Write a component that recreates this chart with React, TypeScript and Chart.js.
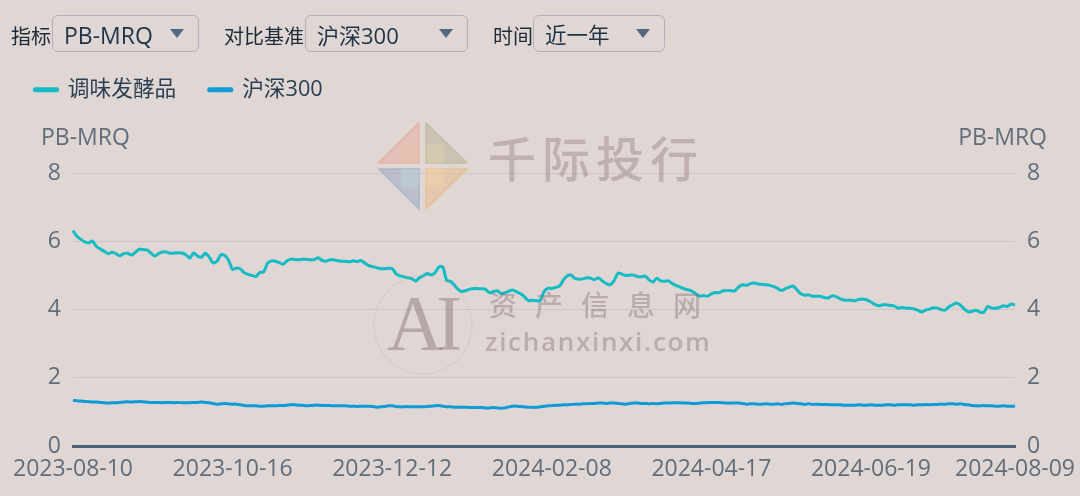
import React, { useEffect, useRef } from "react";
import { Chart, registerables, layouts } from "chart.js";

Chart.register(...registerables);

const dates = [
  "2023-08-10","2023-08-11","2023-08-14","2023-08-15","2023-08-16","2023-08-17","2023-08-18","2023-08-21","2023-08-22","2023-08-23",
  "2023-08-24","2023-08-25","2023-08-28","2023-08-29","2023-08-30","2023-08-31","2023-09-01","2023-09-04","2023-09-05","2023-09-06",
  "2023-09-07","2023-09-08","2023-09-11","2023-09-12","2023-09-13","2023-09-14","2023-09-15","2023-09-18","2023-09-19","2023-09-20",
  "2023-09-21","2023-09-22","2023-09-25","2023-09-26","2023-09-27","2023-09-28","2023-10-09","2023-10-10","2023-10-11","2023-10-12",
  "2023-10-13","2023-10-16","2023-10-17","2023-10-18","2023-10-19","2023-10-20","2023-10-23","2023-10-24","2023-10-25","2023-10-26",
  "2023-10-27","2023-10-30","2023-10-31","2023-11-01","2023-11-02","2023-11-03","2023-11-06","2023-11-07","2023-11-08","2023-11-09",
  "2023-11-10","2023-11-13","2023-11-14","2023-11-15","2023-11-16","2023-11-17","2023-11-20","2023-11-21","2023-11-22","2023-11-23",
  "2023-11-24","2023-11-27","2023-11-28","2023-11-29","2023-11-30","2023-12-01","2023-12-04","2023-12-05","2023-12-06","2023-12-07",
  "2023-12-08","2023-12-11","2023-12-12","2023-12-13","2023-12-14","2023-12-15","2023-12-18","2023-12-19","2023-12-20","2023-12-21",
  "2023-12-22","2023-12-25","2023-12-26","2023-12-27","2023-12-28","2023-12-29","2024-01-02","2024-01-03","2024-01-04","2024-01-05",
  "2024-01-08","2024-01-09","2024-01-10","2024-01-11","2024-01-12","2024-01-15","2024-01-16","2024-01-17","2024-01-18","2024-01-19",
  "2024-01-22","2024-01-23","2024-01-24","2024-01-25","2024-01-26","2024-01-29","2024-01-30","2024-01-31","2024-02-01","2024-02-02",
  "2024-02-05","2024-02-06","2024-02-07","2024-02-08","2024-02-19","2024-02-20","2024-02-21","2024-02-22","2024-02-23","2024-02-26",
  "2024-02-27","2024-02-28","2024-02-29","2024-03-01","2024-03-04","2024-03-05","2024-03-06","2024-03-07","2024-03-08","2024-03-11",
  "2024-03-12","2024-03-13","2024-03-14","2024-03-15","2024-03-18","2024-03-19","2024-03-20","2024-03-21","2024-03-22","2024-03-25",
  "2024-03-26","2024-03-27","2024-03-28","2024-03-29","2024-04-01","2024-04-02","2024-04-03","2024-04-08","2024-04-09","2024-04-10",
  "2024-04-11","2024-04-12","2024-04-15","2024-04-16","2024-04-17","2024-04-18","2024-04-19","2024-04-22","2024-04-23","2024-04-24",
  "2024-04-25","2024-04-26","2024-04-29","2024-04-30","2024-05-06","2024-05-07","2024-05-08","2024-05-09","2024-05-10","2024-05-13",
  "2024-05-14","2024-05-15","2024-05-16","2024-05-17","2024-05-20","2024-05-21","2024-05-22","2024-05-23","2024-05-24","2024-05-27",
  "2024-05-28","2024-05-29","2024-05-30","2024-05-31","2024-06-03","2024-06-04","2024-06-05","2024-06-06","2024-06-07","2024-06-11",
  "2024-06-12","2024-06-13","2024-06-14","2024-06-17","2024-06-18","2024-06-19","2024-06-20","2024-06-21","2024-06-24","2024-06-25",
  "2024-06-26","2024-06-27","2024-06-28","2024-07-01","2024-07-02","2024-07-03","2024-07-04","2024-07-05","2024-07-08","2024-07-09",
  "2024-07-10","2024-07-11","2024-07-12","2024-07-15","2024-07-16","2024-07-17","2024-07-18","2024-07-19","2024-07-22","2024-07-23",
  "2024-07-24","2024-07-25","2024-07-26","2024-07-29","2024-07-30","2024-07-31","2024-08-01","2024-08-02","2024-08-05","2024-08-06",
  "2024-08-07","2024-08-08","2024-08-09",
];

const seasoningPb = [
  6.33,6.16,6.07,6.00,5.97,6.02,5.86,5.79,5.72,5.65,
  5.69,5.65,5.59,5.65,5.66,5.61,5.69,5.78,5.77,5.76,
  5.67,5.58,5.65,5.70,5.70,5.66,5.67,5.68,5.67,5.62,
  5.52,5.67,5.58,5.55,5.66,5.55,5.38,5.43,5.62,5.60,
  5.45,5.19,5.23,5.20,5.09,5.04,5.01,4.98,5.10,5.12,
  5.37,5.44,5.43,5.39,5.34,5.44,5.49,5.48,5.47,5.49,
  5.48,5.47,5.48,5.53,5.45,5.43,5.47,5.47,5.44,5.43,
  5.43,5.41,5.44,5.42,5.45,5.37,5.30,5.27,5.24,5.21,
  5.21,5.22,5.21,5.06,5.00,4.97,4.94,4.92,4.85,4.94,
  5.00,5.07,5.03,5.09,5.26,5.26,4.87,4.84,4.72,4.59,
  4.54,4.57,4.61,4.63,4.62,4.62,4.60,4.50,4.54,4.56,
  4.48,4.50,4.55,4.58,4.53,4.47,4.38,4.27,4.28,4.27,
  4.27,4.54,4.63,4.63,4.66,4.70,4.88,5.00,5.02,4.92,
  4.90,4.91,4.94,4.93,4.89,4.94,4.85,4.77,4.74,4.86,
  5.08,5.05,5.01,5.02,5.02,4.98,4.97,4.99,4.88,4.82,
  4.93,4.85,4.84,4.85,4.77,4.71,4.67,4.62,4.59,4.55,
  4.47,4.40,4.42,4.40,4.47,4.51,4.50,4.56,4.57,4.56,
  4.56,4.67,4.74,4.72,4.77,4.79,4.76,4.75,4.74,4.72,
  4.68,4.63,4.57,4.62,4.67,4.70,4.59,4.47,4.43,4.44,
  4.40,4.40,4.40,4.36,4.35,4.41,4.39,4.33,4.29,4.28,
  4.28,4.27,4.31,4.31,4.29,4.23,4.16,4.12,4.15,4.15,
  4.13,4.11,4.05,4.07,4.05,4.05,4.03,3.99,3.94,3.99,
  4.02,4.06,4.05,4.01,3.99,4.09,4.15,4.20,4.14,4.02,
  3.94,3.96,3.99,3.93,3.93,4.10,4.05,4.05,4.07,4.12,
  4.10,4.17,4.14,
];

const hs300Pb = [
  1.34,1.33,1.32,1.31,1.30,1.29,1.29,1.28,1.27,1.26,
  1.27,1.27,1.28,1.29,1.30,1.29,1.30,1.31,1.30,1.29,
  1.28,1.28,1.28,1.27,1.28,1.28,1.27,1.28,1.27,1.27,
  1.27,1.28,1.28,1.29,1.28,1.27,1.25,1.23,1.24,1.25,
  1.24,1.23,1.23,1.21,1.19,1.18,1.18,1.18,1.17,1.17,
  1.18,1.18,1.18,1.19,1.19,1.20,1.21,1.21,1.20,1.20,
  1.18,1.19,1.20,1.20,1.19,1.19,1.19,1.18,1.18,1.18,
  1.18,1.17,1.17,1.16,1.17,1.17,1.17,1.16,1.14,1.15,
  1.16,1.18,1.18,1.16,1.15,1.15,1.16,1.15,1.15,1.15,
  1.15,1.16,1.17,1.18,1.19,1.17,1.15,1.15,1.14,1.14,
  1.14,1.14,1.13,1.13,1.13,1.13,1.12,1.12,1.13,1.12,
  1.11,1.12,1.15,1.17,1.17,1.16,1.15,1.14,1.14,1.13,
  1.15,1.17,1.18,1.19,1.20,1.20,1.21,1.21,1.22,1.23,
  1.23,1.24,1.24,1.25,1.25,1.26,1.26,1.25,1.26,1.26,
  1.25,1.24,1.23,1.25,1.26,1.26,1.25,1.25,1.24,1.25,
  1.24,1.25,1.26,1.26,1.27,1.27,1.27,1.26,1.26,1.25,
  1.25,1.26,1.27,1.27,1.28,1.28,1.28,1.27,1.26,1.26,
  1.26,1.26,1.25,1.23,1.24,1.24,1.23,1.23,1.24,1.23,
  1.23,1.24,1.22,1.24,1.25,1.26,1.25,1.24,1.22,1.24,
  1.22,1.23,1.22,1.22,1.22,1.21,1.21,1.21,1.20,1.20,
  1.20,1.20,1.21,1.20,1.20,1.21,1.20,1.20,1.20,1.21,
  1.21,1.20,1.21,1.21,1.21,1.21,1.20,1.21,1.21,1.22,
  1.21,1.22,1.22,1.23,1.23,1.24,1.24,1.23,1.24,1.22,
  1.21,1.19,1.18,1.18,1.19,1.18,1.18,1.17,1.17,1.18,
  1.17,1.17,1.17,
];

const xTickLabels = ["2023-08-10","2023-10-16","2023-12-12","2024-02-08","2024-04-17","2024-06-19","2024-08-09"];
const yTicks = [0, 2, 4, 6, 8];
const seriesNames = ["调味发酵品", "沪深300"];
const axisName = "PB-MRQ";

const FONT = '"Open Sans","Noto Sans CJK SC",sans-serif';
const CJK_FONT = '"Noto Sans CJK SC","Open Sans",sans-serif';
const TICK_COLOR = "#606d7b";

// A layout box between the legend and the plot that carries the two axis names.
const axisNames = {
  id: "axisNames",
  start(chart: any) {
    const box: any = {
      position: "top", weight: 500, fullSize: true, options: {},
      left: 0, top: 0, right: 0, bottom: 0, width: 0, height: 63,
      isHorizontal: () => true,
      update(w: number) { box.width = w; box.height = 63; },
      draw() {
        const ctx = chart.ctx;
        ctx.save();
        ctx.font = `23px ${FONT}`;
        ctx.fillStyle = TICK_COLOR;
        ctx.textBaseline = "middle";
        const y = box.top + 28;
        ctx.textAlign = "left";
        ctx.fillText(axisName, 41, y);
        ctx.textAlign = "right";
        ctx.fillText(axisName, 1047, y);
        ctx.restore();
      },
    };
    layouts.addBox(chart, box);
  },
};

function Dropdown({ left, width, text, size }: { left: number; width: number; text: string; size: number }) {
  return (
    <div style={{ position: "absolute", left, top: 15, width, height: 37, boxSizing: "border-box", border: "1px solid #b6aebd", borderRadius: 6 }}>
      <span style={{ position: "absolute", left: 11, top: 1, lineHeight: "36px", fontSize: size, color: "#1d3447", whiteSpace: "nowrap" }}>{text}</span>
      <span style={{ position: "absolute", right: 14, top: 13, width: 0, height: 0, borderLeft: "7px solid transparent", borderRight: "7px solid transparent", borderTop: "9px solid #4f6a80" }} />
    </div>
  );
}

function FilterLabel({ left, text }: { left: number; text: string }) {
  return <span style={{ position: "absolute", left, top: 22, lineHeight: "30px", fontSize: 20, color: "#1d2b38", whiteSpace: "nowrap" }}>{text}</span>;
}

export default function App() {
  const canvasRef = useRef<HTMLCanvasElement>(null);

  useEffect(() => {
    document.body.style.margin = "0";
    const chart = new Chart(canvasRef.current!, {
      type: "line",
      plugins: [axisNames],
      data: {
        labels: dates,
        datasets: [
          { label: seriesNames[0], data: seasoningPb, borderColor: "#12bcc4", backgroundColor: "#12bcc4", borderWidth: 3, pointRadius: 0, tension: 0.25 },
          { label: seriesNames[1], data: hs300Pb, borderColor: "#0f9bd6", backgroundColor: "#0f9bd6", borderWidth: 3, pointRadius: 0, tension: 0.25 },
        ],
      },
      options: {
        responsive: false,
        animation: false,
        layout: { padding: { top: 46, left: 2, right: 0, bottom: 0 } },
        plugins: {
          tooltip: { enabled: false },
          legend: {
            position: "top",
            align: "start",
            labels: {
              boxWidth: 22, boxHeight: 1, padding: 33,
              color: "#2a4052", font: { family: FONT, size: 21.7 },
              generateLabels(c: any) {
                return Chart.defaults.plugins.legend.labels.generateLabels(c).map((item: any) => ({
                  ...item, lineWidth: 4, lineCap: "round", lineJoin: "round",
                }));
              },
            },
          },
        },
        scales: {
          x: {
            type: "category",
            offset: false,
            grid: { display: false, drawTicks: false },
            border: { color: "#4d6278", width: 3 },
            afterFit(scale: any) { scale.height = 50; scale.paddingLeft = 0; scale.paddingRight = 0; },
            ticks: {
              autoSkip: false, maxRotation: 0, minRotation: 0, padding: 10,
              color: TICK_COLOR, font: { family: FONT, size: 23 },
              callback(this: any, value: any) {
                const label = this.getLabelForValue(value);
                return xTickLabels.includes(label) ? label : null;
              },
            },
          },
          y: {
            position: "left", min: 0, max: 8,
            grid: { color: "#cfc4c9", lineWidth: 1, drawTicks: false },
            border: { display: false },
            afterFit(scale: any) { scale.width = 71; },
            ticks: {
              padding: 12, color: TICK_COLOR, font: { family: FONT, size: 23 },
              autoSkip: false,
              callback: (v: any) => (yTicks.includes(Number(v)) ? String(v) : null),
              stepSize: 2,
            },
          },
          y1: {
            position: "right", min: 0, max: 8, display: true,
            grid: { display: false, drawTicks: false },
            border: { display: false },
            afterFit(scale: any) { scale.width = 65; },
            ticks: {
              padding: 12, color: TICK_COLOR, font: { family: FONT, size: 23 },
              autoSkip: false,
              callback: (v: any) => (yTicks.includes(Number(v)) ? String(v) : null),
              stepSize: 2,
            },
          },
        },
      },
    } as any);
    return () => chart.destroy();
  }, []);

  return (
    <div style={{ position: "absolute", left: 0, top: 0, width: 1080, height: 496, overflow: "hidden", background: "#e0d6d4", fontFamily: FONT }}>
      <canvas ref={canvasRef} width={1080} height={496} style={{ position: "absolute", left: 0, top: 0, display: "block", width: 1080, height: 496 }} />

      <FilterLabel left={11} text="指标" />
      <Dropdown left={52} width={147} size={23} text="PB-MRQ" />
      <FilterLabel left={224} text="对比基准" />
      <Dropdown left={305} width={163} size={22} text="沪深300" />
      <FilterLabel left={493} text="时间" />
      <Dropdown left={533} width={132} size={21.5} text="近一年" />

      {/* watermarks */}
      <svg width={1080} height={496} style={{ position: "absolute", left: 0, top: 0, pointerEvents: "none" }}>
        <path d="M419 123 L378 163 L419 163 Z" fill="#e3a999" fillOpacity={0.5} stroke="#e3a999" strokeOpacity={0.5} strokeWidth={2} strokeLinejoin="round" />
        <path d="M426 123 L467 163 L426 163 Z" fill="#bdb598" fillOpacity={0.55} stroke="#bdb598" strokeOpacity={0.55} strokeWidth={2} strokeLinejoin="round" />
        <path d="M379 169 L419 169 L419 209 Z" fill="#9fadc4" fillOpacity={0.55} stroke="#9fadc4" strokeOpacity={0.55} strokeWidth={2} strokeLinejoin="round" />
        <path d="M467 169 L426 169 L426 209 Z" fill="#eabb8d" fillOpacity={0.55} stroke="#eabb8d" strokeOpacity={0.55} strokeWidth={2} strokeLinejoin="round" />
        <rect x={401} y={144} width={18} height={19} rx={4} fill="#f0c8a0" fillOpacity={0.3} />
        <rect x={426} y={144} width={18} height={19} rx={4} fill="#e8d8a8" fillOpacity={0.3} />
        <rect x={401} y={169} width={18} height={18} rx={4} fill="#b8d4dc" fillOpacity={0.45} />
        <rect x={426} y={169} width={18} height={18} rx={4} fill="#f0d8a8" fillOpacity={0.45} />
        <circle cx={423} cy={325} r={49} fill="none" stroke="#b8adad" strokeWidth={1.5} strokeDasharray="1 2" opacity={0.6} />
      </svg>
      <div style={{ position: "absolute", left: 488, top: 124, lineHeight: "64px", fontSize: 48, letterSpacing: 6, fontWeight: 500, fontFamily: CJK_FONT, color: "rgba(140,115,120,0.38)", whiteSpace: "nowrap", pointerEvents: "none" }}>千际投行</div>
      <div style={{ position: "absolute", left: 489, top: 284, lineHeight: "40px", fontSize: 28, letterSpacing: 18, fontWeight: 500, fontFamily: CJK_FONT, color: "rgba(130,110,115,0.4)", whiteSpace: "nowrap", pointerEvents: "none" }}>资产信息网</div>
      <div style={{ position: "absolute", left: 485, top: 323, lineHeight: "36px", fontSize: 26, letterSpacing: 1.7, fontWeight: 600, fontFamily: FONT, color: "rgba(130,110,115,0.4)", whiteSpace: "nowrap", pointerEvents: "none" }}>zichanxinxi.com</div>
      <div style={{ position: "absolute", left: 387, top: 278, lineHeight: "90px", fontSize: 78, letterSpacing: -7, fontFamily: '"Liberation Serif",serif', color: "rgba(125,105,105,0.42)", whiteSpace: "nowrap", pointerEvents: "none" }}>AI</div>
    </div>
  );
}
